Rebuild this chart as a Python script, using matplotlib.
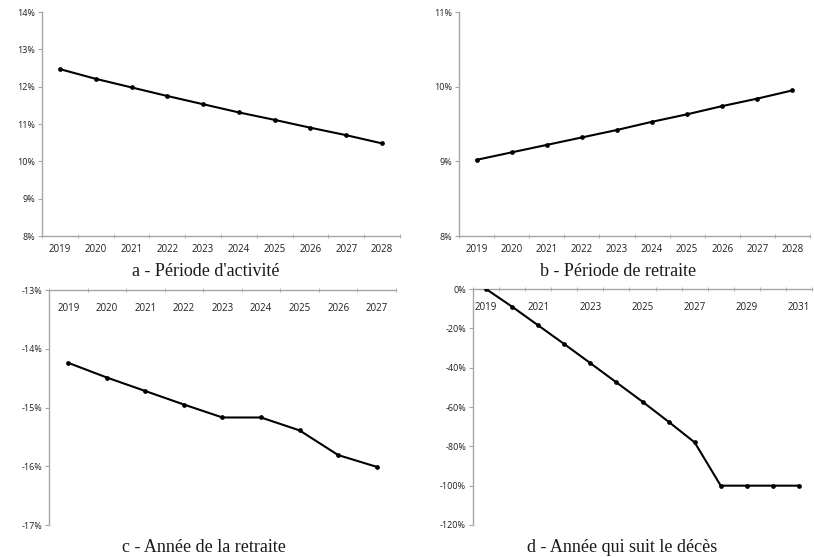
import matplotlib
matplotlib.use("Agg")
import matplotlib.pyplot as plt
import numpy as np
from matplotlib.ticker import FixedLocator, FuncFormatter

# ---- data (percent) ----
years_a = [2019, 2020, 2021, 2022, 2023, 2024, 2025, 2026, 2027, 2028]
values_a = [12.47, 12.21, 11.98, 11.75, 11.53, 11.31, 11.11, 10.90, 10.70, 10.48]

years_b = [2019, 2020, 2021, 2022, 2023, 2024, 2025, 2026, 2027, 2028]
values_b = [9.02, 9.12, 9.22, 9.32, 9.42, 9.53, 9.63, 9.74, 9.84, 9.95]

years_c = [2019, 2020, 2021, 2022, 2023, 2024, 2025, 2026, 2027]
values_c = [-14.24, -14.49, -14.72, -14.95, -15.17, -15.17, -15.39, -15.81, -16.01]

years_d = [2019, 2020, 2021, 2022, 2023, 2024, 2025, 2026, 2027, 2028, 2029, 2030, 2031]
values_d = [0, -9.0, -18.5, -28.0, -37.7, -47.5, -57.3, -67.5, -78.0, -100, -100, -100, -100]

titles = ["a - Période d'activité", "b - Période de retraite",
          "c - Année de la retraite", "d - Année qui suit le décès"]

W, H = 814, 557
fig = plt.figure(figsize=(W / 100, H / 100), dpi=100)

def rect(l, r, t, b):
    return [l / W, 1 - b / H, (r - l) / W, (b - t) / H]

GREY = "#a6a6a6"
TXT = "#1f1f1f"
SANS = "Open Sans"
SERIF = "Liberation Serif"
pct = FuncFormatter(lambda v, p: f"{v:.0f}%")

def setup(ax, years, values, ylim, ystep, top_axis, label_every=1):
    n = len(years)
    x = np.arange(n)
    ax.plot(x, values, color="black", lw=1.5, marker="o", ms=2.4, zorder=3)
    ax.set_xlim(-0.5, n - 0.5)
    ax.set_ylim(*ylim)
    for s in ax.spines.values():
        s.set_visible(False)
    ax.spines["left"].set_visible(True)
    ax.spines["left"].set_color(GREY)
    ax.spines["left"].set_linewidth(1.0)
    xs = "top" if top_axis else "bottom"
    ax.spines[xs].set_visible(True)
    ax.spines[xs].set_color(GREY)
    ax.spines[xs].set_linewidth(1.0)
    ax.yaxis.set_major_locator(FixedLocator(np.arange(ylim[0], ylim[1] + 0.001, ystep)))
    ax.yaxis.set_major_formatter(pct)
    ax.tick_params(axis="y", length=3, color=GREY, labelsize=6.5, labelcolor=TXT, pad=2)
    for lab in ax.get_yticklabels():
        lab.set_family(SANS)
    ax.xaxis.set_major_locator(FixedLocator(x[::label_every]))
    ax.set_xticklabels([str(y) for y in years[::label_every]], family=SANS)
    ax.xaxis.set_minor_locator(FixedLocator(np.arange(-0.5, n, 1.0)))
    if top_axis:
        ax.xaxis.set_ticks_position("top")
        ax.tick_params(axis="x", which="major", length=0, labelsize=7, labelcolor=TXT,
                       labeltop=True, labelbottom=False, top=True, bottom=False, pad=-17)
        ax.tick_params(axis="x", which="minor", length=3, color=GREY, direction="inout",
                       top=True, bottom=False)
    else:
        ax.tick_params(axis="x", which="major", length=0, labelsize=7, labelcolor=TXT, pad=6)
        ax.tick_params(axis="x", which="minor", length=3, color=GREY, direction="inout")

ax_a = fig.add_axes(rect(42, 400, 12, 236))
setup(ax_a, years_a, values_a, (8, 14), 1, False)
ax_b = fig.add_axes(rect(459, 810, 12, 236))
setup(ax_b, years_b, values_b, (8, 11), 1, False)
ax_c = fig.add_axes(rect(49, 396, 290, 525))
setup(ax_c, years_c, values_c, (-17, -13), 1, True)
ax_d = fig.add_axes(rect(473, 812, 289, 525))
setup(ax_d, years_d, values_d, (-120, 0), 20, True, label_every=2)

title_pos = [(206, 271), (618, 271), (204, 547), (622, 547)]
for t, (cx, cy) in zip(titles, title_pos):
    fig.text(cx / W, 1 - cy / H, t, ha="center", va="center", fontsize=13,
             family=SERIF, color="#1a1a1a")

fig.savefig("out.png", dpi=100)
